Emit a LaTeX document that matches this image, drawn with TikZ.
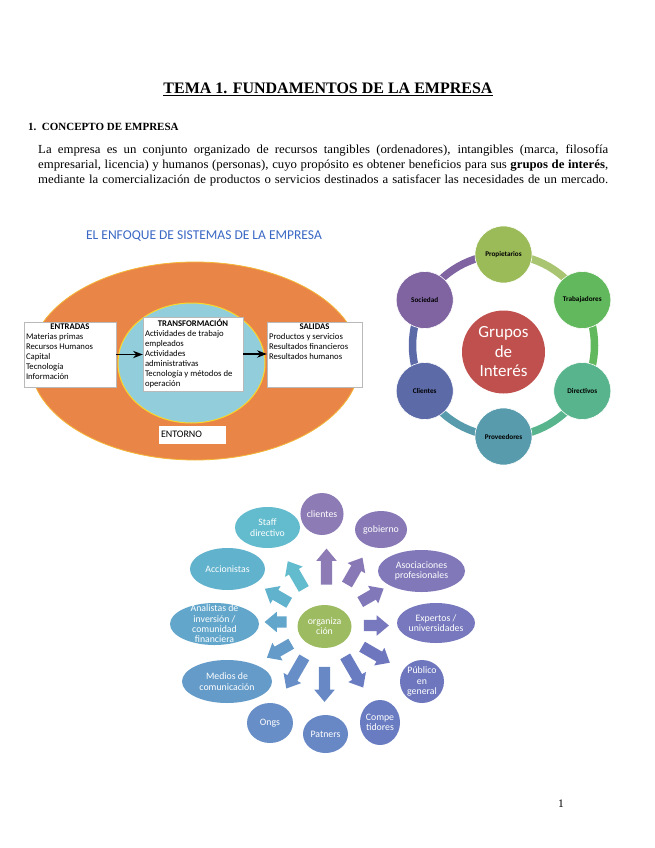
\documentclass[tikz,border=0pt]{standalone}
\usepackage{fontspec}
\setmainfont{Liberation Serif}
\newfontfamily\calfont{Carlito}
\newfontfamily\bodyfont[FakeStretch=1.04]{Liberation Serif}
\usetikzlibrary{shapes.geometric, shapes.arrows, arrows.meta, positioning, calc}
\definecolor{enfoqueblue}{RGB}{58, 104, 196}
\definecolor{entornocolor}{RGB}{234, 133, 72}
\definecolor{empresacolor}{RGB}{146, 205, 220}
\definecolor{ringyellow}{RGB}{250, 215, 40}
% grupos de interes
\definecolor{gprop}{RGB}{155, 187, 89}
\definecolor{gtrab}{RGB}{98, 184, 92}
\definecolor{gdir}{RGB}{88, 180, 140}
\definecolor{gprov}{RGB}{88, 155, 172}
\definecolor{gcli}{RGB}{92, 106, 168}
\definecolor{gsoc}{RGB}{128, 100, 162}
\definecolor{ginteres}{RGB}{192, 80, 77}
% organizacion
\definecolor{orggreen}{RGB}{157, 187, 97}
\definecolor{ocli}{RGB}{141, 123, 181}
\definecolor{ogob}{RGB}{136, 121, 182}
\definecolor{oaso}{RGB}{128, 120, 185}
\definecolor{oexp}{RGB}{119, 120, 189}
\definecolor{opub}{RGB}{110, 119, 190}
\definecolor{ocom}{RGB}{105, 124, 193}
\definecolor{opat}{RGB}{104, 136, 197}
\definecolor{oong}{RGB}{104, 142, 199}
\definecolor{omed}{RGB}{100, 155, 201}
\definecolor{oana}{RGB}{98, 166, 203}
\definecolor{oacc}{RGB}{96, 178, 205}
\definecolor{osta}{RGB}{98, 188, 206}

\begin{document}
\begin{tikzpicture}[
    x=1pt, y=-1pt,
    sysbox/.style={rectangle, draw=gray!55, fill=white, inner sep=2pt, font=\calfont\fontsize{8.7}{10}\selectfont},
    ringcircle/.style={circle, minimum size=57pt, inner sep=0pt, draw=white, line width=0.6pt, font=\calfont\bfseries\fontsize{7.2}{8.5}\selectfont},
    ringarc/.style={line width=7.5pt},
    outerell/.style={ellipse, inner sep=0pt, align=center, text=white, font=\calfont\fontsize{9.8}{10.3}\selectfont},
    blockarrow/.style={single arrow, single arrow head extend=4.5pt, single arrow tip angle=80, inner xsep=0pt, inner ysep=5.5pt, minimum height=#1}
]
\useasboundingbox (0,0) rectangle (655,848);
\fill[white] (0,0) rectangle (655,848);

% heading and text
\node[anchor=base, font=\bfseries\fontsize{16}{18}\selectfont] (tema) at (328,94) {\underline{TEMA 1. FUNDAMENTOS DE LA EMPRESA}};
\node[anchor=base west, inner sep=0pt, font=\bfseries\fontsize{11}{13}\selectfont] (concepto) at (28,131) {1.\ \ CONCEPTO DE EMPRESA};
\node[anchor=north west, inner sep=0pt, text width=570pt, align=justify, font=\bodyfont\fontsize{12.3}{15}\selectfont] (definicion) at (38,145)
  {\parfillskip=0pt La empresa es un conjunto organizado de recursos tangibles (ordenadores), intangibles (marca, filosofía\linebreak
   empresarial, licencia) y humanos (personas), cuyo propósito es obtener beneficios para sus \textbf{grupos de interés},\linebreak
   mediante la comercialización de productos o servicios destinados a satisfacer las necesidades de un mercado.\par};
\node[anchor=base, font=\fontsize{11.5}{13}\selectfont] (pagina) at (561,807) {1};

% enfoque de sistemas
\node[font=\calfont\fontsize{13.5}{15}\selectfont, text=enfoqueblue] (enfoque) at (204,236) {EL ENFOQUE DE SISTEMAS DE LA EMPRESA};
\node[ellipse, minimum width=330pt, minimum height=198pt, fill=entornocolor, draw=ringyellow!60!entornocolor, line width=0.8pt] (entorno) at (195,361) {};
\node[ellipse, minimum width=147pt, minimum height=120pt, fill=empresacolor, draw=ringyellow, line width=1pt] (empresa) at (191.5,363) {};
\node[sysbox] (entradas) at (70,354.5) {\parbox[c][61pt][t]{88pt}{\centering\textbf{ENTRADAS}\par\raggedright
  Materias primas\\Recursos Humanos\\Capital\\Tecnología\\Información}};
\node[sysbox] (transf) at (193,354) {\parbox[c][70pt][t]{96pt}{\centering\textbf{TRANSFORMACIÓN}\par\raggedright
  Actividades de trabajo\\empleados\\Actividades\\administrativas\\Tecnología y métodos de\\operación}};
\node[sysbox] (salidas) at (314.5,354.5) {\parbox[c][61pt][t]{91pt}{\centering\textbf{SALIDAS}\par\raggedright
  Productos y servicios\\Resultados financieros\\Resultados humanos}};
\node[sysbox, draw=white, text width=62pt, align=left, inner sep=2pt, minimum height=17pt, font=\calfont\fontsize{10}{11}\selectfont] (entornolbl) at (192,434.5) {ENTORNO};

\draw[-Stealth, line width=1.5pt] (entradas.east) -- (entradas.east -| transf.west);
\draw[-Stealth, line width=1.5pt] (transf.east) -- (transf.east -| salidas.west);

% grupos de interes
\coordinate (gc) at (503.5,345.5);
\draw[ringarc, gprop!85!white] ([shift={(90:91pt)}]gc) arc[start angle=90, end angle=30, radius=91pt];
\draw[ringarc, gtrab] ([shift={(30:91pt)}]gc) arc[start angle=30, end angle=-30, radius=91pt];
\draw[ringarc, gdir] ([shift={(-30:91pt)}]gc) arc[start angle=-30, end angle=-90, radius=91pt];
\draw[ringarc, gprov] ([shift={(-90:91pt)}]gc) arc[start angle=-90, end angle=-150, radius=91pt];
\draw[ringarc, gcli] ([shift={(-150:91pt)}]gc) arc[start angle=-150, end angle=-210, radius=91pt];
\draw[ringarc, gsoc] ([shift={(150:91pt)}]gc) arc[start angle=150, end angle=90, radius=91pt];

\node[circle, minimum size=83pt, inner sep=0pt, fill=ginteres, text=white, align=center, font=\calfont\fontsize{17}{19.5}\selectfont] (interes) at (503.5,352) {Grupos\\de\\Interés};
\node[ringcircle, fill=gprop] (prop) at ([shift={(90:91pt)}]gc) {Propietarios};
\node[ringcircle, fill=gtrab] (trab) at ([shift={(30:91pt)}]gc) {Trabajadores};
\node[ringcircle, fill=gdir] (dir) at ([shift={(-30:91pt)}]gc) {Directivos};
\node[ringcircle, fill=gprov] (prov) at ([shift={(-90:91pt)}]gc) {Proveedores};
\node[ringcircle, fill=gcli] (cli) at ([shift={(-150:91pt)}]gc) {Clientes};
\node[ringcircle, fill=gsoc] (soc) at ([shift={(150:91pt)}]gc) {Sociedad};

% organizacion y su entorno
\node[outerell, minimum width=54pt, minimum height=43pt, fill=orggreen] (org) at (324.5,626.5) {organiza\\ción};

\node[blockarrow=36pt, fill=ocli, rotate=90] (acli) at (326.5,570) {};
\node[blockarrow=31pt, fill=ogob, rotate=60] (agob) at (353,574) {};
\node[blockarrow=27pt, fill=oaso, rotate=30] (aaso) at (369,597) {};
\node[blockarrow=25pt, fill=oexp, rotate=0] (aexp) at (373,625.5) {};
\node[blockarrow=32pt, fill=opub, rotate=-30] (apub) at (373,653) {};
\node[blockarrow=36pt, fill=ocom, rotate=-60] (acom) at (352.5,669) {};
\node[blockarrow=35pt, fill=opat, rotate=-90] (apat) at (324.5,681) {};
\node[blockarrow=36pt, fill=oong, rotate=-120] (aong) at (297,670) {};
\node[blockarrow=28pt, fill=omed, rotate=-150] (amed) at (282,649) {};
\node[blockarrow=22pt, fill=oana, rotate=180] (aana) at (279,622) {};
\node[blockarrow=28pt, fill=oacc, rotate=150] (aacc) at (280,597.5) {};
\node[blockarrow=32pt, fill=osta, rotate=120] (asta) at (297.5,578) {};

\node[outerell, minimum width=38pt, minimum height=42pt, fill=ocli] (clientes) at (322,514) {clientes};
\node[outerell, minimum width=52pt, minimum height=37pt, fill=ogob] (gobierno) at (381,529.5) {gobierno};
\node[outerell, minimum width=87pt, minimum height=42pt, fill=oaso] (asociaciones) at (421.5,571) {Asociaciones\\profesionales};
\node[outerell, minimum width=78pt, minimum height=40pt, fill=oexp] (expertos) at (436,623) {Expertos /\\universidades};
\node[outerell, minimum width=44pt, minimum height=43pt, fill=opub] (publico) at (422,681.5) {Público\\en\\general};
\node[outerell, minimum width=40pt, minimum height=45pt, fill=ocom] (competidores) at (380,722.5) {Compe\\tidores};
\node[outerell, minimum width=45pt, minimum height=38pt, fill=opat] (patners) at (325.5,734) {Patners};
\node[outerell, minimum width=46pt, minimum height=40pt, fill=oong] (ongs) at (270,723) {Ongs};
\node[outerell, minimum width=90pt, minimum height=43pt, fill=omed] (medios) at (227,681.5) {Medios de\\comunicación};
\node[outerell, minimum width=89pt, minimum height=42pt, inner ysep=-6pt, fill=oana] (analistas) at (214.5,624) {Analistas de\\inversión /\\comunidad\\financiera};
\node[outerell, minimum width=75pt, minimum height=42pt, fill=oacc] (accionistas) at (227.5,569) {Accionistas};
\node[outerell, minimum width=65pt, minimum height=41pt, fill=osta] (staff) at (267.5,527.5) {Staff\\directivo};

\end{tikzpicture}
\end{document}
